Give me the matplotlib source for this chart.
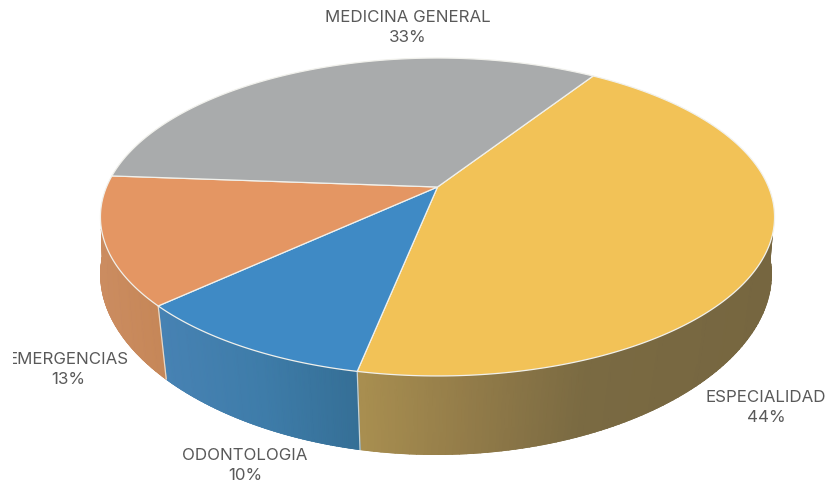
import numpy as np
import matplotlib
matplotlib.use('Agg')
import matplotlib.pyplot as plt
from matplotlib.colors import to_rgb
from matplotlib.patches import Rectangle, Polygon

# slices, clockwise from the gray/yellow seam
categories = ['ESPECIALIDAD', 'ODONTOLOGIA', 'EMERGENCIAS', 'MEDICINA GENERAL']
values = [44, 10, 13, 33]
top_colors = ['#F2C257', '#3F8AC5', '#E49663', '#A9ABAC']
label_x = [766, 245, 68, 408]
label_y = [397, 456, 360, 17]
start_deg = -57.0

# wall gradient stops (pixel x, colour) for each slice
wall_stops = [
	([358, 470, 590, 775], ['#A98F50', '#937C49', '#7A6A42', '#766640']),
	([159, 260, 357], ['#4782B3', '#3E7CA9', '#356F96']),
	([100, 165], ['#CB8C60', '#C58657']),
	([100, 775], ['#A9ABAC', '#A9ABAC']),
]

P = 0.1887
CX = 437.5


def project(t, bottom=False, r=1.0):
	# perspective view of a circle of radius r, t is clockwise on screen
	X = r*np.cos(t)
	Y = r*np.sin(t)
	w = 1 - P*Y
	if bottom:
		return CX - 1.5 + 332*X/(1 - 0.139*Y), 251 + 165*Y/w
	return CX + 331*X/w, 187 + 153.3*Y/w


def wall_color(x, stops):
	xs, cols = stops
	rgb = np.array([to_rgb(c) for c in cols])
	return np.column_stack([np.interp(x, xs, rgb[:, i]) for i in range(3)])


fig = plt.figure(figsize=(8.29, 4.88), dpi=100)
ax = fig.add_axes([0, 0, 1, 1])
ax.set_xlim(0, 829)
ax.set_ylim(488, 0)
ax.axis('off')

edges = start_deg + np.cumsum([0] + values)*3.6

# walls, gouraud mesh per slice plus a soft line on the lower rim
for i in range(len(values)):
	lo = max(edges[i], -25)
	hi = min(edges[i+1], 205)
	if hi <= lo:
		continue
	deg = np.linspace(lo, hi, 120)
	ang = np.radians(deg)
	# at the sides the top row goes inside the rim so no dark fringe shows on the top face
	inset = np.where((deg < 17) | (deg > 165), 0.97, 1.0)
	x_top, y_top = project(ang, r=inset)
	x_low, y_low = project(ang, True)
	col = wall_color(project(ang)[0], wall_stops[i])
	ax.pcolormesh(np.array([x_top, x_low]), np.array([y_top, y_low]),
		np.array([col, col]), shading='gouraud', zorder=2)
	for j in range(0, len(ang)-1):
		ax.plot(x_low[j:j+2], y_low[j:j+2], color=col[j], lw=0.9, zorder=2,
			solid_capstyle='round')

# seams down the wall where slices meet
for e in edges[1:3]:
	t = np.radians(e)
	x0, y0 = project(t)
	x1, y1 = project(t, True)
	ax.plot([x0, x1], [y0, y1], color='#EDEDE6', lw=0.9, alpha=0.8, zorder=3)

# top face
for i in range(len(values)):
	ang = np.radians(np.linspace(edges[i], edges[i+1], 200))
	xs, ys = project(ang)
	pts = [(CX, 187)] + list(zip(xs, ys))
	ax.add_patch(Polygon(pts, closed=True, facecolor=top_colors[i],
		edgecolor='#F1F1EC', linewidth=0.9, zorder=4))

# labels
for i in range(len(values)):
	t1 = ax.text(label_x[i], label_y[i], categories[i], ha='center', va='center',
		fontsize=12.2, color='#595959', family=['Inter', 'DejaVu Sans'], zorder=6)
	t2 = ax.text(label_x[i], label_y[i]+20, str(values[i])+'%', ha='center', va='center',
		fontsize=12.2, color='#595959', family=['Inter', 'DejaVu Sans'], zorder=6)
	if categories[i] == 'EMERGENCIAS':
		# the left of this label is cut off in the source image
		t1.set_clip_path(Rectangle((13, 340), 200, 40, transform=ax.transData))
		t1.set_clip_on(True)

fig.savefig('out.png', dpi=100)
